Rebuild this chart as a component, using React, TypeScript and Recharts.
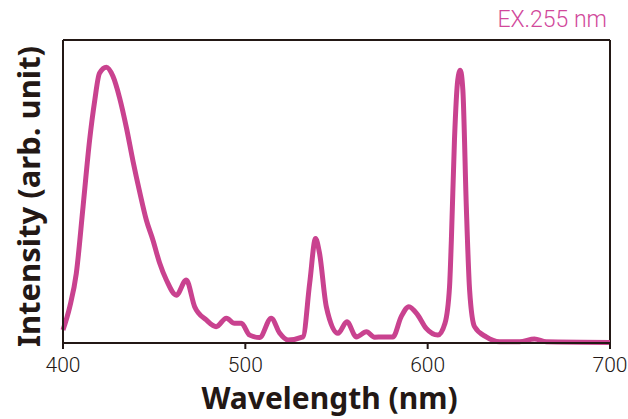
import React from 'react';
import { LineChart, Line, XAxis, YAxis, ReferenceLine } from 'recharts';

// Emission spectrum (intensity in % of frame height)
const wavelengths = [
  400, 403.7, 407.3, 411, 414.6, 417.4, 420, 423.8, 427.4, 431, 434.8, 438.4, 442, 445.7, 449.3,
  453, 456.7, 462.2, 467.6, 472.2, 478.6, 484, 489.6, 494, 497.8, 502.4, 507.8, 514.2, 518.8,
  523.4, 531.6, 535.3, 538.5, 540.7, 544.4, 550.8, 555.7, 560.9, 566.4, 570.9, 575.4, 580.9,
  585.5, 589.7, 594.6, 599.2, 605.6, 609.5, 612, 613, 614.7, 616.5, 617.9, 619.3, 621.2, 623,
  625.7, 632.1, 639.4, 650.4, 658.6, 665, 700,
];
const intensity = [
  4.3, 11.9, 23, 45, 67, 80, 89, 91, 88, 81, 71, 60, 50, 40.6, 34,
  26.4, 20.8, 15.8, 20.8, 12, 7.6, 5.4, 8.2, 6.5, 6.5, 2.6, 1.8, 8.2, 3.3,
  1, 2, 19.8, 34.5, 29.6, 12, 3.2, 7, 2, 3.7, 1.9, 2, 2,
  8.7, 12, 9.2, 4.8, 2.6, 6.5, 18.6, 34, 67, 86.8, 90, 83.5, 45, 17.5,
  5.4, 2, 0.4, 0.4, 1.3, 0.4, 0.2,
];
const xTicks = [400, 500, 600, 700];

const data = wavelengths.map((w, i) => ({ w, v: intensity[i] }));

const INK = '#231815';
const MAGENTA = '#c9428f';
const BOLD_FONT = "'Noto Sans', sans-serif";
const LIGHT_FONT = "Roboto, sans-serif";

const YTitle = (props: any) => {
  const { viewBox } = props;
  const cx = viewBox.x + 28;
  const cy = viewBox.y + viewBox.height / 2 + 5;
  return (
    <text
      x={cx}
      y={cy}
      transform={`rotate(-90 ${cx} ${cy})`}
      textAnchor="middle"
      dominantBaseline="central"
      fill={INK}
      fontSize={31}
      fontWeight={700}
      fontFamily={BOLD_FONT}
    >
      Intensity (arb. unit)
    </text>
  );
};

const XTitle = (props: any) => {
  const { viewBox } = props;
  return (
    <text
      x={viewBox.x + viewBox.width / 2 - 7}
      y={409}
      textAnchor="middle"
      fill={INK}
      fontSize={30}
      fontWeight={700}
      fontFamily={BOLD_FONT}
    >
      Wavelength (nm)
    </text>
  );
};

export default function App() {
  return (
    <div style={{ position: 'absolute', left: 0, top: 0, width: 628, height: 419, background: '#fff' }}>
      <LineChart width={628} height={419} data={data} margin={{ top: 40, right: 18, left: 0, bottom: 0 }}>
        <XAxis
          dataKey="w"
          type="number"
          domain={[400, 700]}
          ticks={xTicks}
          height={76}
          stroke={INK}
          strokeWidth={2}
          tickSize={6}
          tickMargin={8}
          tick={{ fill: INK, fontSize: 21, fontWeight: 300, fontFamily: LIGHT_FONT }}
          label={<XTitle />}
        />
        <YAxis domain={[0, 100]} width={63} stroke={INK} strokeWidth={2} tick={false} tickLine={false} label={<YTitle />} />
        <ReferenceLine y={100} stroke={INK} strokeWidth={2} ifOverflow="visible" />
        <ReferenceLine x={700} stroke={INK} strokeWidth={2} ifOverflow="visible" />
        <Line
          type="monotone"
          dataKey="v"
          stroke={MAGENTA}
          strokeWidth={5}
          dot={false}
          isAnimationActive={false}
        />
      </LineChart>
      <svg width={628} height={45} style={{ position: 'absolute', left: 0, top: 0 }}>
        <text x={607} y={27} textAnchor="end" fill="#d1489b" fontSize={23} fontWeight={300} fontFamily={LIGHT_FONT}>
          EX.255 nm
        </text>
      </svg>
    </div>
  );
}
